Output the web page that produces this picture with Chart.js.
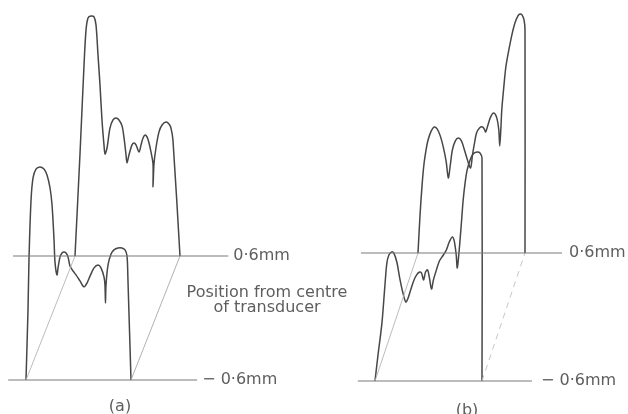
<!DOCTYPE html>
<html>
<head>
<meta charset="utf-8">
<script src="https://cdn.jsdelivr.net/npm/chart.js@4/dist/chart.umd.min.js"></script>
<style>
  html, body { margin: 0; padding: 0; background: #ffffff; }
  #wrap { width: 628px; height: 414px; }
</style>
</head>
<body>
<div id="wrap"><canvas id="c" width="628" height="414"></canvas></div>
<script>
// ---------- DATA ----------
// Depth of each profile: position from centre of transducer (mm)
const depthsMm = [-0.6, 0.6];
const depthLabels = ['\u2212 0\u00B76mm', '0\u00B76mm'];
const panelLabels = ['(a)', '(b)'];
const axisTitleLines = ['Position from centre', 'of transducer'];

// Profile (a), depth -0.6 mm: position along profile (0-100) and amplitude
const aFrontPos = [0, 1.9, 2.9, 4.8, 6.7, 9.5, 13.3, 17.1, 20, 22.9, 24.8, 26.7, 27.6, 29.5, 30.5, 32.4, 34.3, 36.2, 38.1, 40, 41.9, 44.8, 47.6, 51.4, 55.2, 58.1, 61, 64.8, 68.6, 71.4, 74.3, 75.2, 75.7, 76.2, 78.1, 81, 83.8, 87.6, 91.4, 94.3, 96.2, 97.1, 100];
const aFrontAmp = [0, 29.2, 51.3, 75, 84.2, 87.9, 88.8, 87.9, 85.4, 80, 72.9, 58.3, 49.2, 43.8, 46.7, 51.3, 52.9, 53.3, 52.9, 51.3, 47.5, 45.4, 43.8, 41.3, 38.8, 40.4, 43.3, 46.7, 47.9, 46.7, 42.9, 39.6, 32.1, 39.6, 47.9, 52.5, 54.2, 55, 55, 54.2, 51.7, 41.7, 0];

// Profile (a), depth +0.6 mm
const aBackPos = [0, 4.8, 8.6, 10.5, 12.4, 15.2, 18.1, 20, 21.9, 23.8, 25.7, 27.6, 28.6, 30.5, 33.3, 36.2, 39, 41.9, 44.8, 46.7, 48.6, 49.5, 51.4, 54.3, 56.2, 58.1, 61, 62.9, 64.8, 66.7, 68.6, 70.5, 72.4, 74.3, 74.3, 75.2, 77.1, 80, 82.9, 86.7, 89.5, 91.4, 93.3, 100];
const aBackAmp = [0, 42.9, 79.6, 94.2, 99.2, 100, 99.6, 96.3, 83.8, 71.3, 56.7, 46.3, 42.5, 45, 53.3, 56.7, 57.5, 56.7, 54.2, 49.2, 42.1, 38.8, 42.1, 46.3, 47.1, 46.3, 43.3, 46.3, 49.2, 50.4, 49.6, 47.1, 43.3, 38.3, 28.8, 38.3, 45, 51.7, 54.6, 55.8, 55, 53.3, 48.3, 0];

// Profile (b), depth -0.6 mm
const bFrontPos = [0, 2.8, 6.5, 9.3, 11.1, 13, 15.7, 17.6, 20.4, 23.1, 25.9, 28.7, 30.6, 33.3, 36.1, 38.9, 41.7, 43.5, 45.4, 47.2, 49.1, 50.9, 52.8, 54.6, 57.4, 60.2, 63.9, 66.7, 69.4, 72.2, 74.1, 75.9, 76.9, 78.7, 80.6, 82.4, 84.3, 86.1, 88.9, 91.7, 95.4, 98.1, 100, 100];
const bFrontAmp = [0, 10.8, 24.2, 40, 49.2, 52.5, 53.8, 53.3, 49.6, 42.9, 37.1, 32.9, 34.2, 37.9, 41.7, 44.2, 45.4, 45, 42.1, 45.4, 46.3, 42.9, 38.3, 42.1, 46.3, 50, 52.5, 54.6, 57.9, 60, 58.3, 52.5, 47.1, 54.6, 65, 75.4, 82.9, 87.9, 92.1, 94.6, 95.4, 95, 92.9, 0];

// Profile (b), depth +0.6 mm
const bBackPos = [0, 1.9, 3.8, 5.7, 7.5, 9.4, 12.3, 15.1, 17.9, 20.8, 23.6, 26.4, 28.3, 30.2, 32.1, 34.9, 37.7, 40.6, 43.4, 46.2, 49.1, 50.9, 52.8, 54.7, 57.5, 60.4, 62.3, 63.2, 65.1, 67.9, 70.8, 73.6, 75.5, 76.4, 77.4, 78.3, 80.2, 82.1, 84.9, 87.7, 90.6, 93.4, 95.3, 97.2, 99.1, 100, 100];
const bBackAmp = [0, 15.8, 28.3, 37.5, 42.9, 47.1, 50.8, 52.5, 51.7, 48.8, 44.2, 37.9, 31.3, 36.7, 42.9, 46.7, 47.9, 46.7, 42.9, 38.8, 35.4, 40.8, 45.8, 50, 52.1, 52.5, 51.3, 50.4, 52.9, 56.7, 58.3, 56.3, 51.3, 44.6, 51.3, 59.6, 69.2, 77.5, 84.6, 90.8, 95.8, 98.8, 99.6, 99.2, 97.1, 92.9, 0];

// ---------- LAYOUT (drawing geometry, not data) ----------
const H = 414;
const panels = [
  { x0: 26,  y0: H - 380, width: 105, dx: 49, dy: 124, amp: 2.4,
    base: [[-17, 163], [-59, 146]], labelGap: [5, 5], labelP: 89.5, labelDrop: 27,
    front: [aFrontPos, aFrontAmp], back: [aBackPos, aBackAmp], rightDash: false },
  { x0: 375, y0: H - 381, width: 107, dx: 43, dy: 128, amp: 2.4,
    base: [[-16, 146.7], [-53.3, 134.6]], labelGap: [9, 7], labelP: 86, labelDrop: 30,
    front: [bFrontPos, bFrontAmp], back: [bBackPos, bBackAmp], rightDash: true }
];
const titleAnchor = { x: 267, y: H - 293, lineGap: 15 };

// Oblique projection of (panel, depth, position, amplitude) into the drawing plane
function project(pan, depth, p, a) {
  const t = (depth - depthsMm[0]) / (depthsMm[1] - depthsMm[0]);
  return { x: pan.x0 + p / 100 * pan.width + t * pan.dx,
           y: pan.y0 + a * pan.amp + t * pan.dy };
}
function profilePts(pan, depth, pos, amp) {
  return pos.map((p, i) => project(pan, depth, p, amp[i]));
}

const datasets = [];
const lineDs = (data, color, width, extra) => Object.assign({
  data, showLine: true, borderColor: color, borderWidth: width,
  pointRadius: 0, pointHoverRadius: 0, fill: false, tension: 0
}, extra || {});

panels.forEach(pan => {
  // baselines
  depthsMm.forEach((d, k) => {
    datasets.push(lineDs([project(pan, d, pan.base[k][0], 0), project(pan, d, pan.base[k][1], 0)], '#7a7a7a', 1.2));
  });
  // oblique depth lines
  datasets.push(lineDs([project(pan, depthsMm[0], 0, 0), project(pan, depthsMm[1], 0, 0)], '#b4b4b4', 0.9));
  datasets.push(lineDs([project(pan, depthsMm[0], 100, 0), project(pan, depthsMm[1], 100, 0)],
    pan.rightDash ? '#c0c0c0' : '#a8a8a8', 0.9, pan.rightDash ? { borderDash: [6, 5] } : {}));
  // profiles
  datasets.push(lineDs(profilePts(pan, depthsMm[1], pan.back[0], pan.back[1]), '#474747', 1.5, { tension: 0.3 }));
  datasets.push(lineDs(profilePts(pan, depthsMm[0], pan.front[0], pan.front[1]), '#474747', 1.5, { tension: 0.3 }));
});

const textPlugin = {
  id: 'drawingText',
  afterDatasetsDraw(chart) {
    const { ctx, scales: { x, y } } = chart;
    ctx.save();
    ctx.fillStyle = '#5e5e5e';
    ctx.font = '16px "DejaVu Sans"';
    ctx.textBaseline = 'middle';
    panels.forEach((pan, i) => {
      depthsMm.forEach((d, k) => {
        const e = project(pan, d, pan.base[k][1], 0);
        ctx.textAlign = 'left';
        ctx.fillText(depthLabels[k], x.getPixelForValue(e.x) + pan.labelGap[k], y.getPixelForValue(e.y));
      });
      const l = project(pan, depthsMm[0], pan.labelP, 0);
      ctx.textAlign = 'center';
      ctx.fillText(panelLabels[i], x.getPixelForValue(l.x), y.getPixelForValue(l.y) + pan.labelDrop);
    });
    ctx.textAlign = 'center';
    axisTitleLines.forEach((t, i) => {
      ctx.fillText(t, x.getPixelForValue(titleAnchor.x), y.getPixelForValue(titleAnchor.y) + i * titleAnchor.lineGap);
    });
    ctx.restore();
  }
};

new Chart(document.getElementById('c'), {
  type: 'scatter',
  data: { datasets },
  options: {
    responsive: false,
    animation: false,
    devicePixelRatio: 1,
    layout: { padding: 0 },
    plugins: { legend: { display: false }, tooltip: { enabled: false }, title: { display: false } },
    events: [],
    scales: {
      x: { type: 'linear', min: 0, max: 628, display: false },
      y: { type: 'linear', min: 0, max: H, display: false }
    }
  },
  plugins: [textPlugin]
});
</script>
</body>
</html>
